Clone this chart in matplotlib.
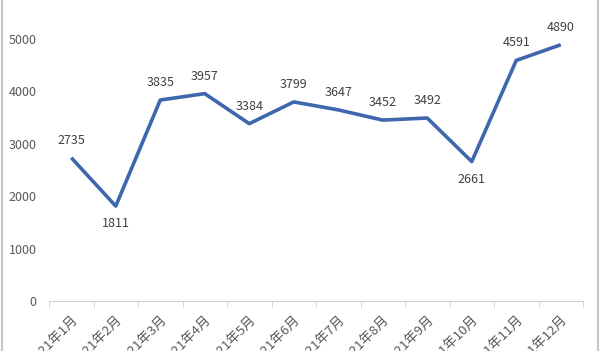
import matplotlib.pyplot as plt
import numpy as np

plt.rcParams['font.family'] = ['Noto Sans CJK SC', 'DejaVu Sans']

months = ['2021年1月', '2021年2月', '2021年3月', '2021年4月', '2021年5月', '2021年6月',
          '2021年7月', '2021年8月', '2021年9月', '2021年10月', '2021年11月', '2021年12月']
values = [2735, 1811, 3835, 3957, 3384, 3799, 3647, 3452, 3492, 2661, 4591, 4890]
below = [False, True, False, False, False, False, False, False, False, True, False, False]

fig = plt.figure(figsize=(6, 3.51), dpi=100)
ax = fig.add_axes([49 / 600, 50 / 351, 534 / 600, 301 / 351])

x = np.arange(len(values))
ax.plot(x, values, color='#3F67AE', linewidth=2.6, solid_capstyle='butt')
for xi, v, b in zip(x, values, below):
    if b:
        ax.annotate(str(v), (xi, v), xytext=(0, -8), textcoords='offset points',
                    ha='center', va='top', fontsize=9, color='#404040')
    else:
        ax.annotate(str(v), (xi, v), xytext=(0, 8), textcoords='offset points',
                    ha='center', va='bottom', fontsize=9, color='#404040')

ax.set_xlim(-0.5, len(values) - 0.5)
ax.set_ylim(0, 5744)
ax.set_yticks([0, 1000, 2000, 3000, 4000, 5000])
ax.tick_params(axis='y', length=0, labelsize=9, labelcolor='#595959', pad=9)

ax.set_xticks(x)
ax.set_xticklabels(months, rotation=45, ha='right', rotation_mode='anchor',
                   fontsize=9.5, color='#595959')
ax.tick_params(axis='x', which='major', length=0, pad=9)
ax.set_xticks(np.arange(-0.5, len(values)), minor=True)
ax.tick_params(axis='x', which='minor', length=4, color='#D0D0D0')

for s in ['top', 'right', 'left']:
    ax.spines[s].set_visible(False)
ax.spines['bottom'].set_color('#D0D0D0')

fig.add_artist(plt.Line2D([1.5 / 600, 1.5 / 600], [0, 1], color='#C8C8C8', linewidth=1.5))
fig.add_artist(plt.Line2D([597.5 / 600, 597.5 / 600], [0, 1], color='#C8C8C8', linewidth=1.5))

fig.savefig('out.png', dpi=100)
